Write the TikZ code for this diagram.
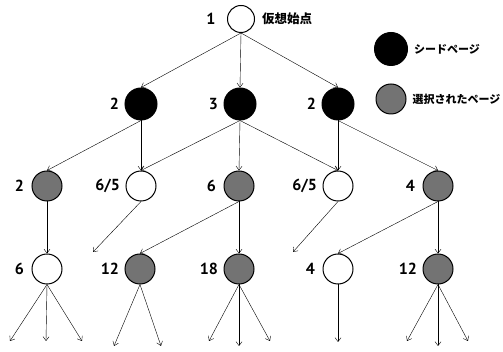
\documentclass[tikz,border=0pt]{standalone}
\usepackage{fontspec}
\setmainfont{PT Sans}
\newfontfamily\jp{Noto Sans CJK JP}
\usetikzlibrary{arrows.meta,positioning}
\tikzset{> = {Straight Barb[length=4pt,width=6pt]}, color=black}
\tikzset{page/.style={circle,draw,line width=1pt,minimum size=30pt,inner sep=0pt},
  seed/.style={page,fill=black,minimum size=32pt},
  chosen/.style={page,fill=black!55},
  every label/.style={font=\bfseries\fontsize{16}{16}\selectfont},
  jptext/.style={font=\jp\bfseries\fontsize{11}{11}\selectfont,inner sep=0pt}}

\begin{document}
\begin{tikzpicture}[x=1pt,y=-1pt,label distance=2pt]
	\useasboundingbox (0,0) rectangle (503,352);
	% virtual start
	\node[page,minimum size=27pt,label={[label distance=8pt]left:1}] (v) at (241,19) {};
	\node[jptext,font=\jp\bfseries\fontsize{12.5}{12.5}\selectfont,right=7pt of v] (vname) {仮想始点};
	% seed pages
	\node[seed,label=left:2] (s1) at (141,104) {};
	\node[seed,label=left:3] (s2) at (240,104) {};
	\node[seed,label=left:2] (s3) at (338,104) {};
	% second row
	\node[chosen,label={[label distance=4pt]left:2}] (a1) at (47,186) {};
	\node[page,label=left:6/5] (a2) at (141,186) {};
	\node[chosen,label={[label distance=4pt]left:6}] (a3) at (239,186) {};
	\node[page,label=left:6/5] (a4) at (338,186) {};
	\node[chosen,label={[label distance=4pt]left:4}] (a5) at (438,186) {};
	% third row
	\node[page,label={[label distance=4pt]left:6}] (b1) at (47,269) {};
	\node[chosen,label=left:12] (b2) at (140,269) {};
	\node[chosen,label=left:18] (b3) at (239,269) {};
	\node[page,label={[label distance=4pt]left:4}] (b4) at (338,269) {};
	\node[chosen,label=left:12] (b5) at (438,269) {};
	% legend
	\node[seed,minimum size=33pt] (lseed) at (391,49) {};
	\node[jptext,right=6pt of lseed] (lseedtext) {シードページ};
	\node[chosen,minimum size=30pt] (lchosen) at (391,99) {};
	\node[jptext,right=6pt of lchosen] (lchosentext) {選択されたページ};
	% edges
	\foreach \p/\c in {v/s1,v/s2,v/s3,s1/a1,s1/a2,s2/a2,s2/a3,s2/a4,s3/a4,s3/a5,
		a1/b1,a3/b2,a3/b3,a5/b4,a5/b5}
		\draw[->] (\p.south)--(\c.north);
	\coordinate (f1) at (93,252);
	\coordinate (f2) at (293,252);
	\draw[->] (a2.south)--(f1);
	\draw[->] (a4.south)--(f2);
	% out of the picture
	\foreach \p/\x/\y [count=\i] in {b1/10/341,b1/46/341,b1/82/341,b2/114/346,b2/161/346,
		b3/209/341,b3/239/346,b3/270/341,b4/338/342,b5/407/341,b5/438/346,b5/468/341}
		{\coordinate (e\i) at (\x,\y);
		\draw[->] (\p.south)--(e\i);}
\end{tikzpicture}
\end{document}
